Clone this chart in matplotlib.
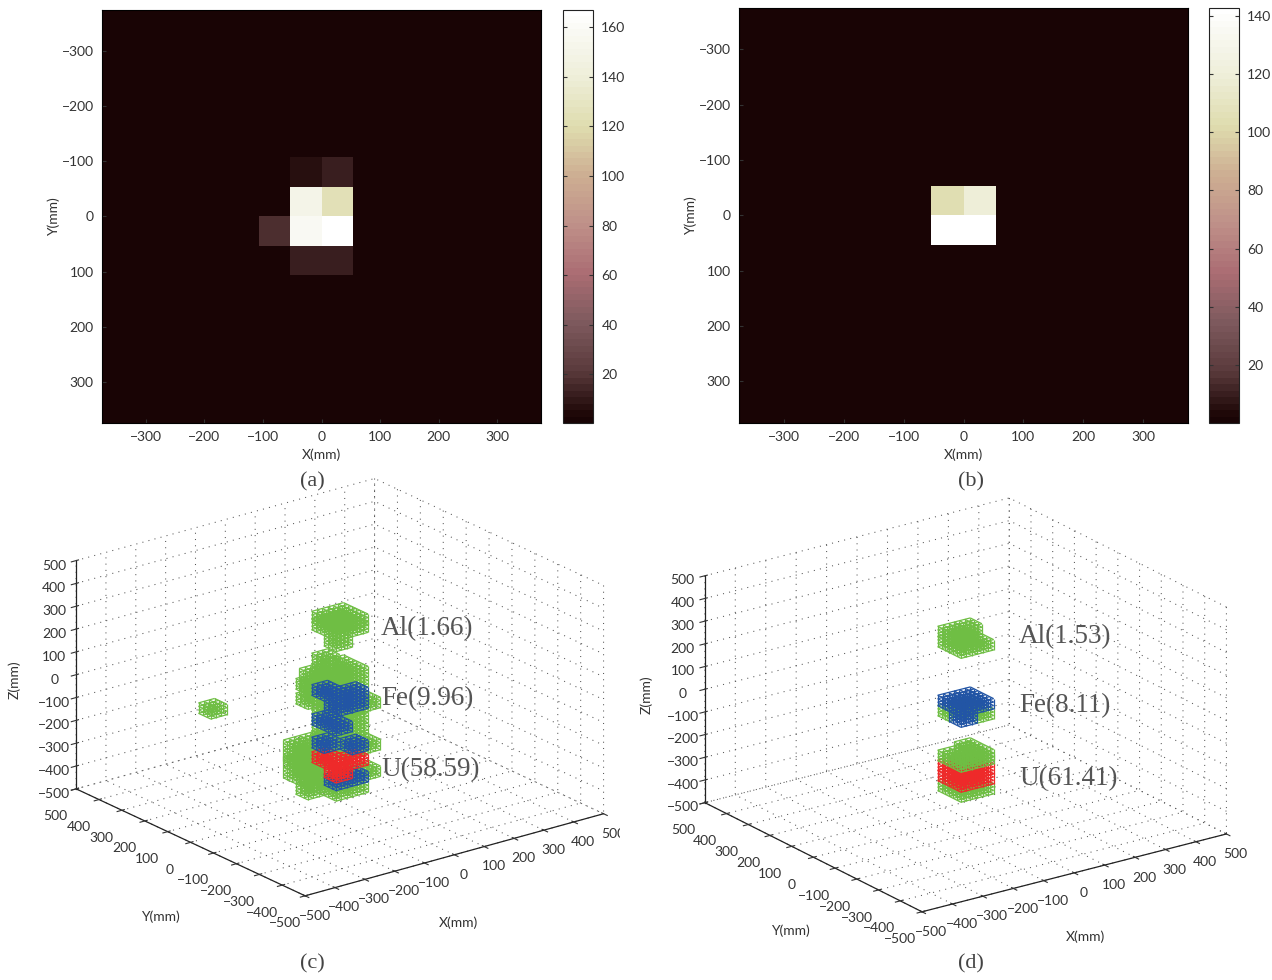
"""Mapas de atenuacion (a, b) y voxeles reconstruidos (c, d)."""
import numpy as np
import matplotlib
matplotlib.use('Agg')
import matplotlib.pyplot as plt
from matplotlib.colors import LinearSegmentedColormap
from matplotlib.patches import Rectangle
from mpl_toolkits.mplot3d.art3d import Line3DCollection

W, H = 1272, 980

plt.rcParams.update({
    'font.family': ['Lato', 'DejaVu Sans'], 'font.size': 10,
    'text.color': '#333333', 'axes.labelcolor': '#333333',
    'xtick.color': '#333333', 'ytick.color': '#333333',
    'axes.unicode_minus': True,
    'grid.linestyle': (0, (1, 5)), 'grid.linewidth': 0.75, 'grid.color': '#555555',
})

# ----------------------------------------------------------------------------
# Datos
# ----------------------------------------------------------------------------
N_CELLS = 14
EDGES = np.linspace(-375, 375, N_CELLS + 1)
BACKGROUND = 1.0

# (fila, columna, valor)
HEAT_A = [(5, 6, 7), (5, 7, 13), (6, 6, 150), (6, 7, 125), (7, 5, 17),
          (7, 6, 157), (7, 7, 167), (8, 6, 13), (8, 7, 13)]
HEAT_B = [(6, 6, 104), (6, 7, 120), (7, 6, 142.5), (7, 7, 142.5)]
RANGE_A = (0.3, 167)
RANGE_B = (0.1, 142.7)
TICKS_XY = [-300, -200, -100, 0, 100, 200, 300]
CBAR_TICKS_A = [20, 40, 60, 80, 100, 120, 140, 160]
CBAR_TICKS_B = [20, 40, 60, 80, 100, 120, 140]
TICKS_3D = [-500, -400, -300, -200, -100, 0, 100, 200, 300, 400, 500]

CMAP_VALUES = [0, 0.02, 0.12, 0.24, 0.36, 0.48, 0.60, 0.72, 0.84, 0.96, 1]
CMAP_COLORS = ['#190405', '#200909', '#5a3a3c', '#7e5a5e', '#ab6d73', '#bf9089',
               '#cdae92', '#dfdcae', '#eeeed8', '#fafaf5', '#ffffff']

# columnas centrales de voxeles (ix, iy)
N_ = (6, 6)
R_ = (7, 6)
L_ = (6, 7)
B_ = (7, 7)
CORE = [N_, R_, L_, B_]

# capas (z inferior en mm, celdas), en orden de dibujo
GREEN_C = [
    (246, CORE), (280, CORE), (200, [N_]),
    (97, [L_]), (51, CORE), (5, CORE + [(6, 8), (5, 7)]),
    (-59, CORE + [(6, 8), (5, 7), (6, 5), (7, 5)]), (-105, CORE),
    (-151, CORE), (-197, CORE), (-243, CORE + [(6, 5), (7, 5)]),
    (-289, [(5, 8), (5, 7), (6, 8), R_, N_]),
    (-335, [(5, 8), (5, 7), (6, 8)]),
    (-360, [(5, 8), (5, 7), (6, 8), (6, 5), (7, 5)]),
    (-409, [(5, 8), (5, 7), (6, 8)]),
    (-455, CORE + [(6, 8), (5, 7)]),
    (-144, [(2, 11)]),
]
BLUE_C = [(-41, [N_, L_, R_]), (-87, [N_, R_]), (-170, [L_, N_]), (-409, [N_, R_])]
RED_C = [(-335, [L_, N_, R_]), (-375, [N_])]
BLUE_C_TOP = [(-271, [L_, R_])]

GREEN_D = [
    (249, CORE), (293, [N_, L_, B_]),
    (-55, [R_, L_, B_]),
    (-385, CORE),
]
BLUE_D = [(-11, CORE), (-55, [N_])]
RED_D = [(-341, CORE), (-297, CORE)]
GREEN_D_TOP = [(-253, CORE), (-235, [B_, R_])]

ANNOT_C = [('Al(1.66)', 381, 629), ('Fe(9.96)', 381, 699), ('U(58.59)', 381, 770)]
ANNOT_D = [('Al(1.53)', 1019, 637), ('Fe(8.11)', 1019, 706), ('U(61.41)', 1019, 779)]
CAPTIONS = [('(a)', 312, 482), ('(b)', 971, 482), ('(c)', 312, 964), ('(d)', 971, 964)]

GREEN, BLUE, RED = '#6fbe44', '#2255a5', '#ee2a2a'
LAYER_H = 46
SERIF = ['Liberation Serif', 'DejaVu Serif']

cmap = LinearSegmentedColormap.from_list('rosa', list(zip(CMAP_VALUES, CMAP_COLORS)), N=64)


def px_axes(fig, left, top, right, bottom, **kw):
    return fig.add_axes([left / W, 1 - bottom / H, (right - left) / W, (bottom - top) / H], **kw)


def put_text(fig, s, x, y, **kw):
    fig.text(x / W, 1 - y / H, s, ha=kw.pop('ha', 'center'), va='center', **kw)


def heat_panel(fig, box, cbox, cells, vrange, cticks):
    ax = px_axes(fig, *box)
    grid = np.full((N_CELLS, N_CELLS), BACKGROUND)
    for row, col, val in cells:
        grid[row, col] = val
    mesh = ax.pcolormesh(EDGES, EDGES, grid, cmap=cmap, vmin=vrange[0], vmax=vrange[1])
    ax.set_xlim(-375, 375)
    ax.set_ylim(375, -375)
    ax.set_xticks(TICKS_XY)
    ax.set_yticks(TICKS_XY)
    ax.tick_params(direction='in', length=3, pad=6)
    ax.set_xlabel('X(mm)', labelpad=4)
    ax.set_ylabel('Y(mm)', labelpad=1)
    cax = px_axes(fig, *cbox)
    cb = fig.colorbar(mesh, cax=cax, ticks=cticks)
    cb.ax.tick_params(direction='in', length=3, left=True, right=True, pad=6)
    cb.outline.set_edgecolor('#222222')


def lattice(layers, n=3):
    segs = []
    for z0, cols in layers:
        for ix, iy in cols:
            xs = np.linspace(EDGES[ix], EDGES[ix + 1], n + 1)
            ys = np.linspace(EDGES[iy], EDGES[iy + 1], n + 1)
            zs = np.linspace(z0, z0 + LAYER_H, n + 1)
            for a in ys:
                for b in zs:
                    segs.append([(xs[0], a, b), (xs[-1], a, b)])
            for a in xs:
                for b in zs:
                    segs.append([(a, ys[0], b), (a, ys[-1], b)])
            for a in xs:
                for b in ys:
                    segs.append([(a, b, zs[0]), (a, b, zs[-1])])
    return segs


def voxel_panel(fig, box, azim, parts, zoom):
    ax = px_axes(fig, *box, projection='3d', proj_type='ortho', computed_zorder=False)
    ax.view_init(elev=21, azim=azim)
    ax.set_box_aspect((1, 1, 0.65), zoom=zoom)
    ax.patch.set_alpha(0)
    ax.set_xlim(-500, 500, view_margin=0)
    ax.set_ylim(-500, 500, view_margin=0)
    ax.set_zlim(-500, 500, view_margin=0)
    for axis in (ax.xaxis, ax.yaxis, ax.zaxis):
        axis.set_ticks(TICKS_3D)
        axis.set_pane_color((1, 1, 1, 0))
        axis.pane.set_edgecolor('none')
        axis.line.set_color('#222222')
        axis.line.set_linewidth(0.9)
    ax.tick_params(labelsize=10, pad=1)
    ax.tick_params(axis='y', pad=7)
    ax.zaxis.set_ticks_position('upper')
    for zo, (layers, color) in enumerate(parts, start=3):
        ax.add_collection3d(Line3DCollection(lattice(layers), colors=color,
                                             linewidths=0.9, zorder=zo))
    return ax


fig = plt.figure(figsize=(W / 100, H / 100), dpi=100, facecolor='white')

heat_panel(fig, (102, 10, 541, 423), (563, 10, 593, 423), HEAT_A, RANGE_A, CBAR_TICKS_A)
heat_panel(fig, (739, 8, 1188, 423), (1209, 8, 1239, 423), HEAT_B, RANGE_B, CBAR_TICKS_B)

voxel_panel(fig, (42, 405, 622, 985), -127.5,
            [(GREEN_C, GREEN), (BLUE_C, BLUE), (RED_C, RED), (BLUE_C_TOP, BLUE)], 0.98)
voxel_panel(fig, (668, 430, 1248, 995), -125.5,
            [(GREEN_D, GREEN), (BLUE_D, BLUE), (RED_D, RED), (GREEN_D_TOP, GREEN)], 1.0)

# la etiqueta 500 de (c) queda cortada en el original
fig.add_artist(Rectangle((620 / W, 1 - 850 / H), 18 / W, 40 / H, transform=fig.transFigure,
                         facecolor='white', edgecolor='none', zorder=2))

put_text(fig, 'X(mm)', 458, 923)
put_text(fig, 'Y(mm)', 160, 917)
put_text(fig, 'Z(mm)', 14, 680, rotation=90)
put_text(fig, 'X(mm)', 1085, 937)
put_text(fig, 'Y(mm)', 790, 931)
put_text(fig, 'Z(mm)', 646, 695, rotation=90)

for s, x, y in ANNOT_C + ANNOT_D:
    put_text(fig, s, x, y, ha='left', family=SERIF, fontsize=19.5, color='#555555')
for s, x, y in CAPTIONS:
    put_text(fig, s, x, y, family=SERIF, fontsize=16, color='#444444')

fig.savefig('out.png', dpi=100, facecolor='white')
